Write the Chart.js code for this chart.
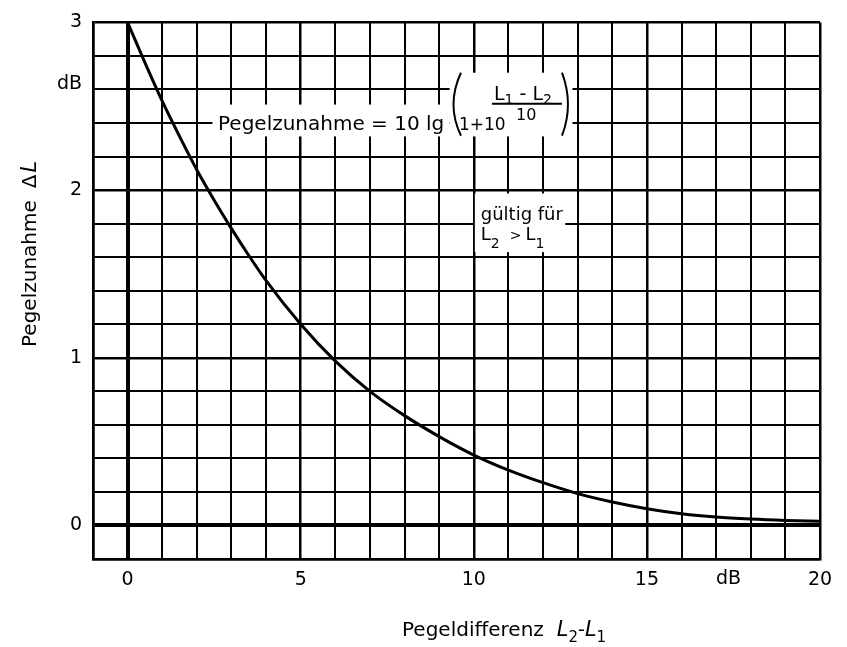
<!DOCTYPE html>
<html>
<head>
<meta charset="utf-8">
<script src="https://cdn.jsdelivr.net/npm/chart.js@4.4.1/dist/chart.umd.min.js"></script>
<style>
body { margin: 0; background: #fff; }
</style>
</head>
<body>
<canvas id="grafico" width="847" height="647"></canvas>
<script>
// Werte
var pegeldifferenz = [0, 0.5, 1, 1.5, 2, 2.5, 3, 3.5, 4, 5, 6, 7, 8, 9, 10, 11, 12, 13, 14, 15, 16, 17, 18, 19, 20];
var pegelzunahme = [3.0, 2.76, 2.53, 2.32, 2.12, 1.94, 1.77, 1.61, 1.46, 1.20, 0.98, 0.80, 0.655, 0.53, 0.42, 0.33, 0.255, 0.19, 0.14, 0.10, 0.07, 0.05, 0.038, 0.03, 0.025];
var xBeschriftung = [0, 5, 10, 15, 20];
var yBeschriftung = [0, 1, 2, 3];

Chart.defaults.font.family = 'DejaVu Sans';
Chart.defaults.color = '#000';

// schreibt mehrere Textstücke hintereinander (Text, Schrift, Versatz y, Zusatzabstand)
function schreibe(ctx, teile, x, y) {
    for (var i = 0; i < teile.length; i++) {
        ctx.font = teile[i][1];
        ctx.fillText(teile[i][0], x, y + (teile[i][2] || 0));
        x += ctx.measureText(teile[i][0]).width + (teile[i][3] || 0);
    }
    return x;
}

var beschriftung = {
    id: 'beschriftung',
    beforeDatasetsDraw: function (chart) {
        var ctx = chart.ctx;
        var sx = chart.scales.x, sy = chart.scales.y;
        function px(v) { return sx.getPixelForValue(v); }
        function py(v) { return sy.getPixelForValue(v); }

        ctx.save();
        // weiße Felder hinter den Texten
        ctx.fillStyle = '#fff';
        ctx.fillRect(px(2.45), py(2.51), px(9.3) - px(2.45), py(2.32) - py(2.51));
        ctx.fillRect(px(9.3), py(2.70), px(12.85) - px(9.3), py(2.32) - py(2.70));
        ctx.fillRect(px(10.03), py(1.98), px(12.64) - px(10.03), py(1.63) - py(1.98));

        ctx.fillStyle = '#000';
        ctx.strokeStyle = '#000';
        ctx.textBaseline = 'alphabetic';
        ctx.textAlign = 'left';

        // Formel
        var ax = px(2.61), ay = py(2.36);
        schreibe(ctx, [['Pegelzunahme = 10 lg', '20px DejaVu Sans']], ax, ay);
        schreibe(ctx, [['1+10', '17px DejaVu Sans']], ax + 241, ay);
        schreibe(ctx, [
            ['L', '19px DejaVu Sans'],
            ['1', '14px DejaVu Sans', 4],
            [' - ', '19px DejaVu Sans'],
            ['L', '19px DejaVu Sans'],
            ['2', '14px DejaVu Sans', 4]
        ], ax + 276, ay - 30);
        schreibe(ctx, [['10', '16px DejaVu Sans']], ax + 298, ay - 10);

        ctx.lineWidth = 2;
        ctx.beginPath();
        ctx.moveTo(ax + 274, ay - 26);
        ctx.lineTo(ax + 344, ay - 26);
        ctx.stroke();
        // Klammern
        ctx.beginPath();
        ctx.moveTo(ax + 243, ay - 57);
        ctx.quadraticCurveTo(ax + 228, ay - 25, ax + 243, ay + 6);
        ctx.stroke();
        ctx.beginPath();
        ctx.moveTo(ax + 344, ay - 57);
        ctx.quadraticCurveTo(ax + 356, ay - 25, ax + 344, ay + 6);
        ctx.stroke();

        // gültig für
        var gx = px(10.2), gy = py(1.82);
        schreibe(ctx, [['gültig für', '18px DejaVu Sans']], gx, gy);
        schreibe(ctx, [
            ['L', '18px DejaVu Sans'],
            ['2', '14px DejaVu Sans', 8, 10],
            ['>', '14px DejaVu Sans', 0, 4],
            ['L', '18px DejaVu Sans'],
            ['1', '14px DejaVu Sans', 8]
        ], gx, gy + 20);
        ctx.restore();
    },
    afterDraw: function (chart) {
        var ctx = chart.ctx;
        var area = chart.chartArea;
        var sx = chart.scales.x, sy = chart.scales.y;
        ctx.save();
        ctx.fillStyle = '#000';
        ctx.font = '19px DejaVu Sans';

        // dB an den Achsen
        ctx.textAlign = 'right';
        ctx.textBaseline = 'middle';
        ctx.fillText('dB', area.left - 11, sy.getPixelForValue(2.63));
        ctx.textAlign = 'center';
        ctx.fillText('dB', sx.getPixelForValue(17.36), area.bottom + 20);

        // Achsentitel unten
        ctx.textAlign = 'left';
        ctx.textBaseline = 'alphabetic';
        schreibe(ctx, [
            ['Pegeldifferenz', '20px DejaVu Sans', 0, 13],
            ['L', 'italic 21px DejaVu Sans'],
            ['2', '15px DejaVu Sans', 6],
            ['-', '19px DejaVu Sans'],
            ['L', 'italic 21px DejaVu Sans'],
            ['1', '15px DejaVu Sans', 6]
        ], 402, 636);

        // Achsentitel links (gedreht)
        ctx.translate(36, 347);
        ctx.rotate(-Math.PI / 2);
        schreibe(ctx, [
            ['Pegelzunahme', '20px DejaVu Sans', 0, 12],
            ['\u0394', '20px DejaVu Sans', 0, 2],
            ['L', 'italic 21px DejaVu Sans']
        ], 0, 0);
        ctx.restore();
    }
};

// Linienstärke: Nulllinien dick, ganze Werte etwas kräftiger
function gitterBreite(context, schritt) {
    var v = context.tick.value;
    if (Math.abs(v) < 1e-6) return 4;
    if (context.index === 0) return 2.5;
    var r = v / schritt;
    if (Math.abs(r - Math.round(r)) < 1e-6) return 2.5;
    return 2;
}

const ctx = document.getElementById('grafico');

new Chart(ctx, {
    type: 'line',
    data: {
        datasets: [{
            label: 'Pegelzunahme',
            data: pegeldifferenz.map(function (x, i) {
                return { x: x, y: pegelzunahme[i] };
            }),
            borderColor: '#000',
            borderWidth: 3,
            pointRadius: 0,
            cubicInterpolationMode: 'monotone',
            fill: false
        }]
    },
    options: {
        responsive: false,
        animation: false,
        events: [],
        layout: {
            padding: { top: 14, right: 27, left: 0, bottom: 0 }
        },
        plugins: {
            legend: { display: false },
            tooltip: { enabled: false }
        },
        scales: {
            x: {
                type: 'linear',
                min: -1,
                max: 20,
                afterFit: function (scale) { scale.height = 88; },
                ticks: {
                    stepSize: 1,
                    autoSkip: false,
                    maxRotation: 0,
                    padding: 10,
                    font: { size: 19 },
                    callback: function (value) {
                        return xBeschriftung.indexOf(value) >= 0 ? String(value) : '';
                    }
                },
                grid: {
                    color: '#000',
                    lineWidth: function (c) { return gitterBreite(c, 5); },
                    drawTicks: false
                },
                border: { color: '#000', width: 2.5 }
            },
            y: {
                min: -0.2,
                max: 3,
                afterFit: function (scale) { scale.width = 93; },
                ticks: {
                    stepSize: 0.2,
                    autoSkip: false,
                    padding: 11,
                    font: { size: 19 },
                    callback: function (value) {
                        var ganz = Math.round(value);
                        if (Math.abs(value - ganz) < 1e-6 && yBeschriftung.indexOf(ganz) >= 0) {
                            return String(ganz);
                        }
                        return '';
                    }
                },
                grid: {
                    color: '#000',
                    lineWidth: function (c) { return gitterBreite(c, 1); },
                    drawTicks: false
                },
                border: { color: '#000', width: 2.5 }
            }
        }
    },
    plugins: [beschriftung]
});
</script>
</body>
</html>
